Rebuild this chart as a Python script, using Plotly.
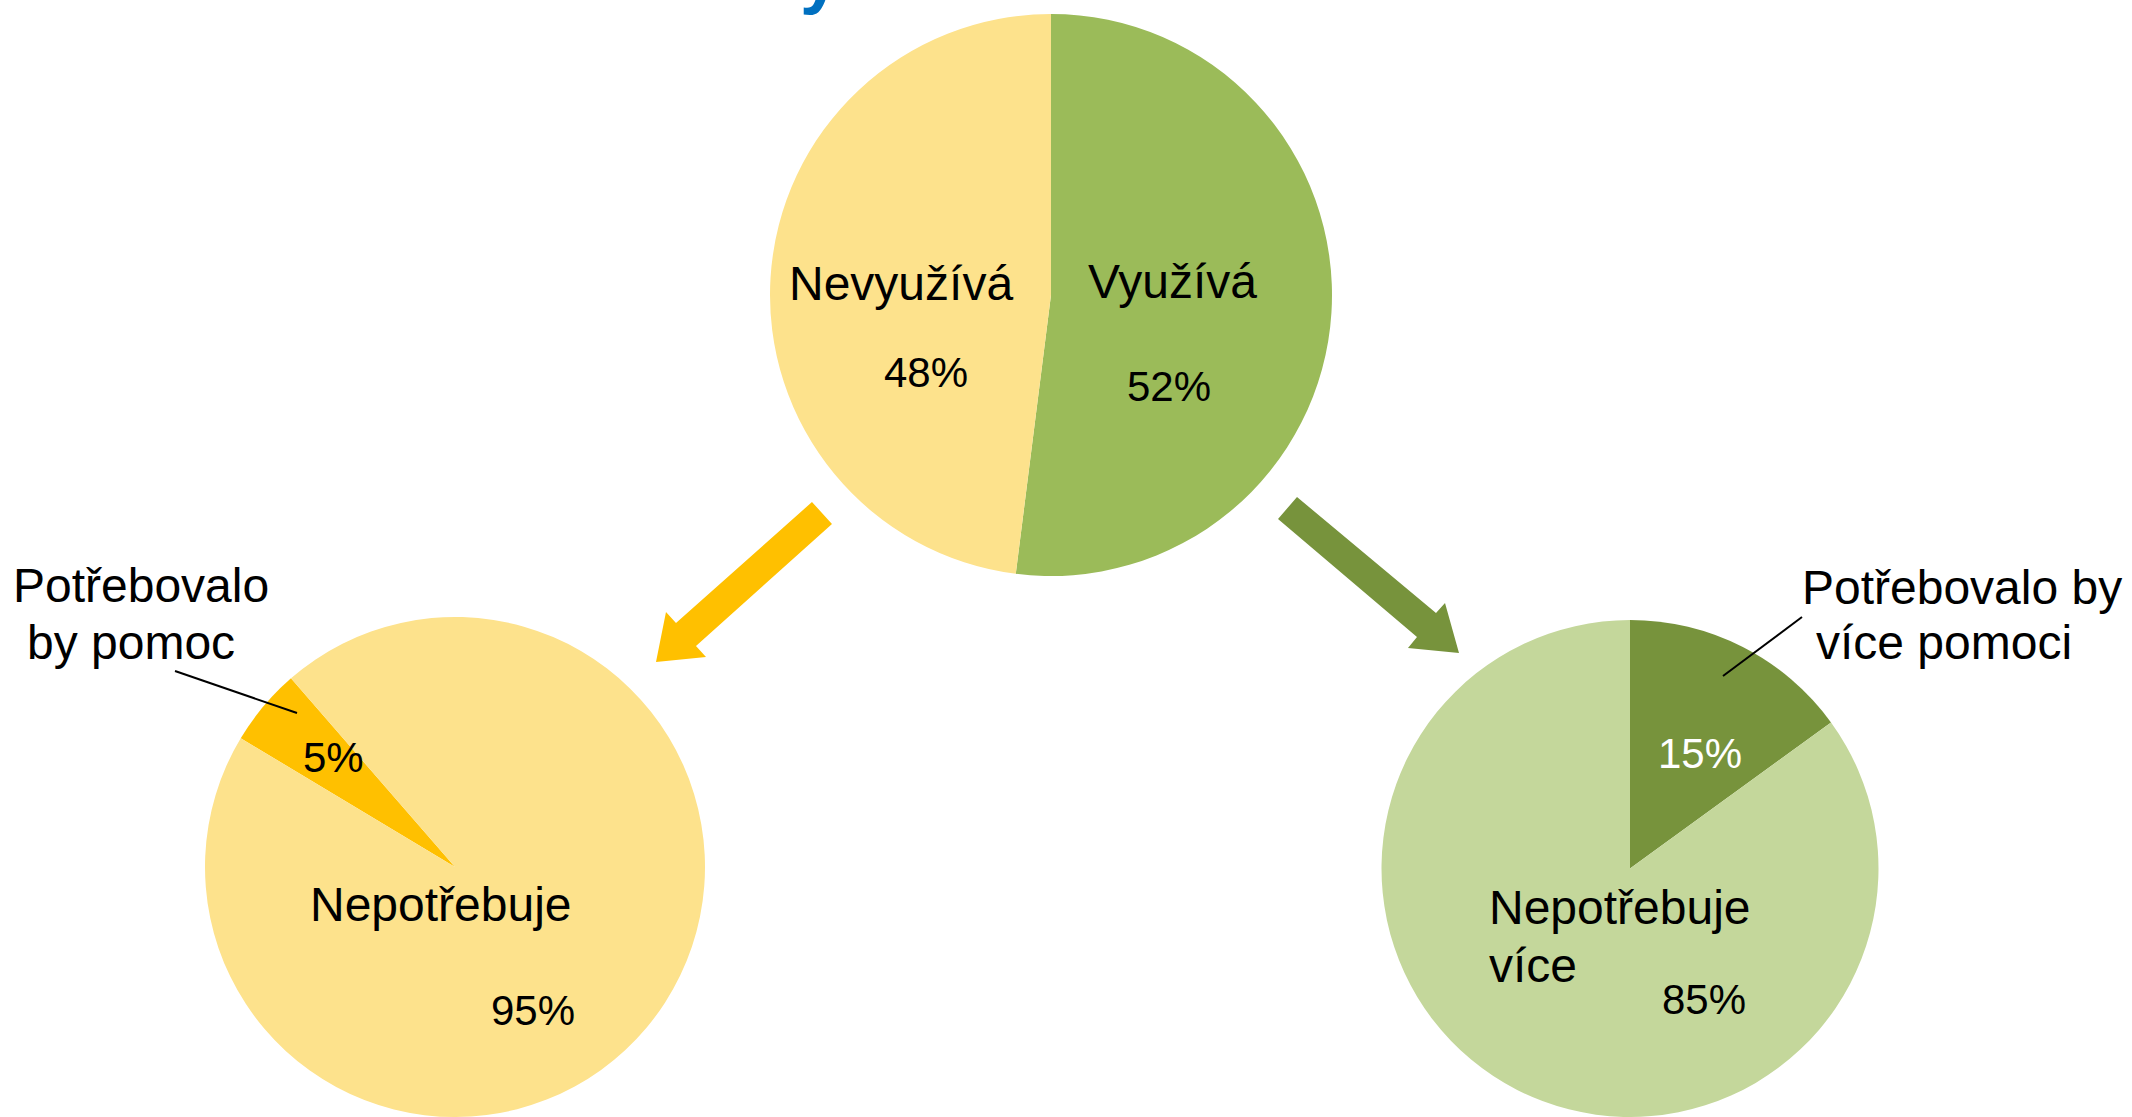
import plotly.graph_objects as go

W, H = 2132, 1117

# ---- data ----
top_labels = ["Využívá", "Nevyužívá"]
top_values = [52, 48]
left_labels = ["Potřebovalo<br>by pomoc", "Nepotřebuje"]
left_values = [5, 95]
right_labels = ["Potřebovalo by<br>více pomoci", "Nepotřebuje<br>více"]
right_values = [15, 85]

# ---- colours ----
C_YEL_L = "#FDE28C"
C_GOLD = "#FFC000"
C_GRN = "#9BBB59"
C_GRN_D = "#77933C"
C_GRN_L = "#C4D79B"

FONT = "Liberation Sans, Arial, sans-serif"


def px(x, y):
    return x / W, 1 - y / H


fig = go.Figure()

fig.add_trace(go.Pie(labels=top_labels, values=top_values, sort=False, direction="clockwise",
                     rotation=0, marker=dict(colors=[C_GRN, C_YEL_L]), textinfo="none",
                     domain=dict(x=[770 / W, 1332 / W], y=[1 - 576 / H, 1 - 14 / H]),
                     showlegend=False))
fig.add_trace(go.Pie(labels=left_labels, values=left_values, sort=False, direction="clockwise",
                     rotation=301, marker=dict(colors=[C_GOLD, C_YEL_L]), textinfo="none",
                     domain=dict(x=[150 / W, 760 / W], y=[0, 1 - 617 / H]),
                     showlegend=False))
fig.add_trace(go.Pie(labels=right_labels, values=right_values, sort=False, direction="clockwise",
                     rotation=0, marker=dict(colors=[C_GRN_D, C_GRN_L]), textinfo="none",
                     domain=dict(x=[1325 / W, 1935 / W], y=[0, 1 - 620 / H]),
                     showlegend=False))

annots = []


def add_text(text, x, y, size, color="black", xanchor="center"):
    ax, ay = px(x, y)
    annots.append(dict(text=text, x=ax, y=ay, xref="paper", yref="paper", showarrow=False,
                       xanchor=xanchor, yanchor="middle",
                       font=dict(family=FONT, size=size, color=color)))


def add_lines(label, positions, size, xanchor="center"):
    for line, (x, y) in zip(label.split("<br>"), positions):
        add_text(line, x, y, size, xanchor=xanchor)


def pct(v):
    return f"{v}%"


LBL, PCT = 48, 42
# top pie
add_text(top_labels[1], 901, 283, LBL)
add_text(pct(top_values[1]), 926, 373, PCT)
add_text(top_labels[0], 1172, 281, LBL)
add_text(pct(top_values[0]), 1169, 386, PCT)
# left pie
add_lines(left_labels[0], [(141, 585), (131, 642)], LBL)
add_text(pct(left_values[0]), 333, 757, PCT)
add_text(left_labels[1], 441, 904, LBL)
add_text(pct(left_values[1]), 533, 1010, PCT)
# right pie
add_lines(right_labels[0], [(1962, 587), (1944, 642)], LBL)
add_text(pct(right_values[0]), 1700, 753, PCT, color="white")
add_lines(right_labels[1], [(1487, 907), (1487, 965)], LBL, xanchor="left")
add_text(pct(right_values[1]), 1704, 999, PCT)

# cut-off title fragment at the top
tx, ty = px(820, -25)
annots.append(dict(text="<b>y</b>", x=tx, y=ty, xref="paper", yref="paper", showarrow=False,
                   xanchor="center", yanchor="middle",
                   font=dict(family=FONT, size=72, color="#0070C0")))

shapes = []


def path(points):
    s = ""
    for i, (x, y) in enumerate(points):
        a, b = px(x, y)
        s += ("M" if i == 0 else "L") + f"{a:.5f},{b:.5f} "
    return s + "Z"


# arrows
shapes.append(dict(type="path", xref="paper", yref="paper",
                   path=path([(812, 502), (676, 623), (666, 612), (656, 662), (706, 657), (696, 646), (832, 524)]),
                   fillcolor=C_GOLD, line=dict(width=0)))
shapes.append(dict(type="path", xref="paper", yref="paper",
                   path=path([(1297, 497), (1436, 613), (1445, 603), (1459, 653), (1408, 648), (1417, 637), (1278, 519)]),
                   fillcolor=C_GRN_D, line=dict(width=0)))

# leader lines
for (x0, y0, x1, y1) in [(175, 671, 297, 713), (1802, 617, 1723, 676)]:
    a0, b0 = px(x0, y0)
    a1, b1 = px(x1, y1)
    shapes.append(dict(type="line", xref="paper", yref="paper", x0=a0, y0=b0, x1=a1, y1=b1,
                       line=dict(color="black", width=2)))

fig.update_layout(width=W, height=H, margin=dict(l=0, r=0, t=0, b=0),
                  paper_bgcolor="white", plot_bgcolor="white",
                  annotations=annots, shapes=shapes, font=dict(family=FONT))

fig.write_html("out.html", config={"displayModeBar": False},
               post_script="document.body.style.margin='0';document.body.style.overflow='hidden';")
